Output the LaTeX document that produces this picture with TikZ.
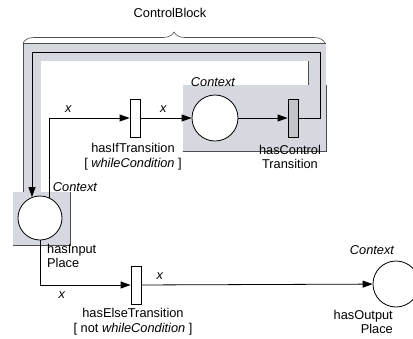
\documentclass[tikz,border=0pt]{standalone}
\usepackage{fontspec}
\setmainfont{Liberation Sans}
\usetikzlibrary{arrows.meta,positioning,calc,decorations.pathreplacing}

\definecolor{ctxgray}{HTML}{D5D8DF}
\definecolor{trgray}{HTML}{C2C4CA}
\definecolor{edgegray}{HTML}{4D4D4D}

\tikzset{
  place/.style={draw,circle,fill=white,line width=0.8pt,minimum size=44pt,inner sep=0pt},
  trans/.style={draw,rectangle,fill=white,line width=0.8pt,minimum width=10pt,minimum height=38pt,inner sep=0pt},
  arc/.style={->,line width=0.8pt},
  ctxbox/.style={draw=edgegray,fill=ctxgray,line width=0.8pt},
  lbl/.style={inner sep=0pt,align=center,font=\fontsize{12.8}{14.8}\selectfont},
  ctx/.style={lbl,font=\fontsize{12.8}{14.8}\selectfont\itshape},
  varlbl/.style={inner sep=0pt,font=\fontsize{12.8}{14.8}\selectfont\itshape}
}

\begin{document}
\begin{tikzpicture}[x=1pt,y=-1pt,>={Triangle[length=10pt,width=7pt]}]
    \useasboundingbox (0,0) rectangle (413,338);
    % context boxes and the control loop band
    \draw[ctxbox] (13,192) rectangle (70,245);
    \draw[ctxbox] (183,85) rectangle (326,151);
    \draw[draw=edgegray,line width=0.8pt,double=ctxgray,double distance=17pt]
      (32,205) |- (317,52) -- (317,95);
    \fill[ctxgray] (13.4,192.4) rectangle (69.6,244.6);
    \fill[ctxgray] (183.4,85.4) rectangle (325.6,150.6);
    \draw[decorate,decoration={brace,amplitude=11pt},edgegray,line width=0.6pt] (23,43) -- (325,43);
    \node[lbl] (cb) at (170,13) {ControlBlock};

    % places and transitions
    \node[place] (pin) at (40,218) {};
    \node[trans] (tif) at (135,118) {};
    \node[place,minimum size=46pt] (pif) at (215,118) {};
    \node[trans,fill=trgray] (tctl) at (293,118) {};
    \node[trans] (telse) at (136,285) {};
    \node[place,minimum size=46pt] (pout) at (396,284) {};

    \node[ctx] (ctxif) at (213,82) {Context};
    \node[ctx] (ctxin) at (75,187) {Context};
    \node[ctx] (ctxout) at (372,250) {Context};
    \node[lbl] (lif) at (133,157) {hasIfTransition\\{}[ \textit{whileCondition} ]};
    \node[lbl] (lctl) at (290,157) {hasControl\\Transition};
    \node[lbl,align=left,anchor=west] (lin) at (47,256) {hasInput\\Place};
    \node[lbl] (lelse) at (133,322) {hasElseTransition\\{}[ not \textit{whileCondition} ]};
    \node[lbl,align=right,anchor=east] (lout) at (393,322) {hasOutput\\Place};

    % arcs
    \draw[arc] (pin.66) |- (tif.west) node[varlbl,pos=0.62,above=5pt] (x1) {x};
    \draw[arc] (tif) -- (pif) node[varlbl,pos=0.45,above=5pt] (x2) {x};
    \draw[arc] (pif) -- (tctl);
    \draw[arc] (tctl.east) -| (320,52) -| (pin.111);
    \draw[arc] (pin.south) |- (telse.west) node[varlbl,pos=0.62,below=6pt] (x3) {x};
    \draw[arc] (telse) -- (pout) node[varlbl,pos=0.08,above=5pt] (x4) {x};
\end{tikzpicture}
\end{document}
